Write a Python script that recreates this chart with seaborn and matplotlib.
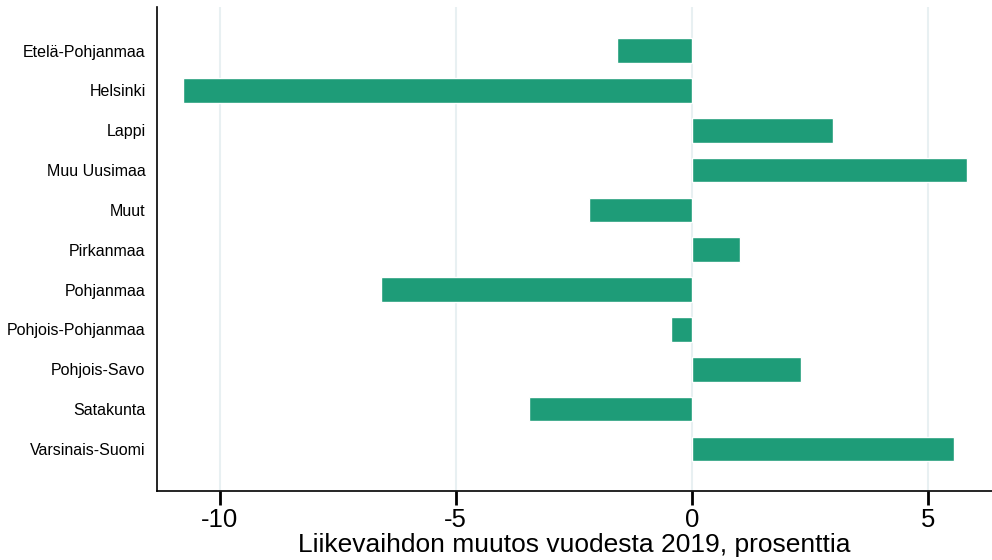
import pandas as pd
import matplotlib.pyplot as plt
import seaborn as sns

# Liikevaihdon muutos maakunnittain, % vuodesta 2019
regions = [
    "Etelä-Pohjanmaa", "Helsinki", "Lappi", "Muu Uusimaa", "Muut",
    "Pirkanmaa", "Pohjanmaa", "Pohjois-Pohjanmaa", "Pohjois-Savo",
    "Satakunta", "Varsinais-Suomi",
]
change_pct = [-1.59, -10.78, 2.99, 5.83, -2.18, 1.02, -6.59, -0.44, 2.31, -3.45, 5.55]
x_ticks = [-10, -5, 0, 5]


def main():
    df = pd.DataFrame({"region": regions, "change": change_pct})

    sns.set_style("white")
    plt.rcParams["font.family"] = ["Liberation Sans", "DejaVu Sans"]
    plt.rcParams["text.color"] = "black"
    plt.rcParams["axes.labelcolor"] = "black"
    plt.rcParams["xtick.color"] = "black"
    plt.rcParams["ytick.color"] = "black"

    fig = plt.figure(figsize=(9.92, 5.6), dpi=100)
    ax = fig.add_axes([0.158, 0.123, 0.842, 0.865])

    ax.grid(axis="x", color="#e8f0f2", linewidth=1.5, zorder=0)

    sns.barplot(data=df, x="change", y="region", orient="h",
                color="#1e9c78", saturation=1, width=0.62, ax=ax, zorder=2)

    sns.despine(ax=ax)
    for side in ["left", "bottom"]:
        ax.spines[side].set_color("black")
        ax.spines[side].set_linewidth(1.2)

    ax.set_xlim(-11.33, 6.36)
    ax.set_ylim(11.06, -1.1)
    ax.set_xticks(x_ticks)
    ax.set_xticklabels([str(t) for t in x_ticks], fontsize=18.5)
    ax.tick_params(axis="x", bottom=True, length=10, width=2, color="black", pad=2)
    ax.tick_params(axis="y", length=0, labelsize=11.5, pad=8)

    ax.set_xlabel("Liikevaihdon muutos vuodesta 2019, prosenttia", fontsize=19, labelpad=1)
    ax.set_ylabel("")

    fig.savefig("out.png", dpi=100)
    plt.close(fig)


if __name__ == "__main__":
    main()
